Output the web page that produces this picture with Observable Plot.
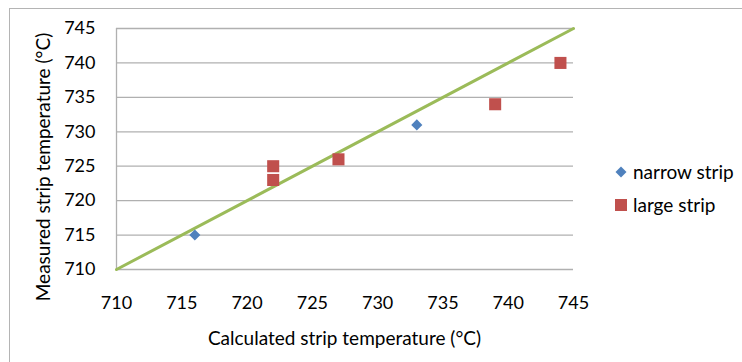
<!DOCTYPE html>
<html>
<head>
<meta charset="utf-8">
<script src="https://cdn.jsdelivr.net/npm/d3@7"></script>
<script src="https://cdn.jsdelivr.net/npm/@observablehq/plot@0.6"></script>
<style>
  body { margin: 0; background: #fff; }
  #wrap { position: relative; width: 742px; height: 362px; overflow: hidden; font-family: Lato, sans-serif; color: #000; }
  #frame { position: absolute; left: 9px; top: 8px; width: 760px; height: 400px; border-top: 1.5px solid #b4b4b4; border-left: 1.5px solid #b4b4b4; box-sizing: border-box; }
  #chart { position: absolute; left: 0; top: 0; }
  .xtitle { position: absolute; left: 116px; width: 457px; top: 326px; text-align: center; font-size: 19px; white-space: nowrap; }
  .ytitle { position: absolute; left: 42px; top: 167px; transform: translate(-50%, -50%) rotate(-90deg); font-size: 19px; white-space: nowrap; }
  .legend { position: absolute; left: 614px; font-size: 19px; white-space: nowrap; display: flex; align-items: center; }
  .legend svg { margin-right: 5px; }
</style>
</head>
<body>
<div id="wrap">
  <div id="frame"></div>
  <div id="chart"></div>
  <div class="xtitle">Calculated strip temperature (°C)</div>
  <div class="ytitle">Measured strip temperature (°C)</div>
  <div class="legend" style="top:160px"><svg width="14" height="14"><path d="M7,1.5L12.5,7L7,12.5L1.5,7Z" fill="#4F81BD"/></svg>narrow strip</div>
  <div class="legend" style="top:193px"><svg width="14" height="14"><rect x="1" y="1" width="12" height="12" fill="#C0504D"/></svg>large strip</div>
</div>
<script>
const ticks = [710, 715, 720, 725, 730, 735, 740, 745];
const narrowX = [716, 733];
const narrowY = [715, 731];
const largeX = [722, 722, 727, 739, 744];
const largeY = [725, 723, 726, 734, 740];
const lineX = [710, 745];
const lineY = [710, 745];

const narrow = narrowX.map((x, i) => ({x, y: narrowY[i]}));
const large = largeX.map((x, i) => ({x, y: largeY[i]}));
const diag = lineX.map((x, i) => ({x, y: lineY[i]}));

const chart = Plot.plot({
  width: 742,
  height: 362,
  marginLeft: 116,
  marginRight: 169,
  marginTop: 28,
  marginBottom: 93,
  style: { fontFamily: "Lato, sans-serif", fontSize: "18px", color: "#000", background: "transparent" },
  x: { domain: [710, 745], ticks: ticks, tickSize: 0, tickPadding: 27, label: null, tickFormat: d => String(d) },
  y: { domain: [710, 745], ticks: ticks, tickSize: 0, tickPadding: 21, label: null, tickFormat: d => String(d) },
  marks: [
    Plot.ruleY(ticks, { stroke: "#b0b0b0", strokeWidth: 1.3 }),
    Plot.ruleX([710], { stroke: "#b0b0b0", strokeWidth: 1.3 }),
    Plot.line(diag, { x: "x", y: "y", stroke: "#9BBB59", strokeWidth: 3 }),
    Plot.dot(narrow, { x: "x", y: "y", symbol: "diamond2", r: 5, fill: "#4F81BD", stroke: "none" }),
    Plot.dot(large, { x: "x", y: "y", symbol: "square", r: 6.8, fill: "#C0504D", stroke: "none" })
  ]
});
document.getElementById("chart").appendChild(chart);
</script>
</body>
</html>
